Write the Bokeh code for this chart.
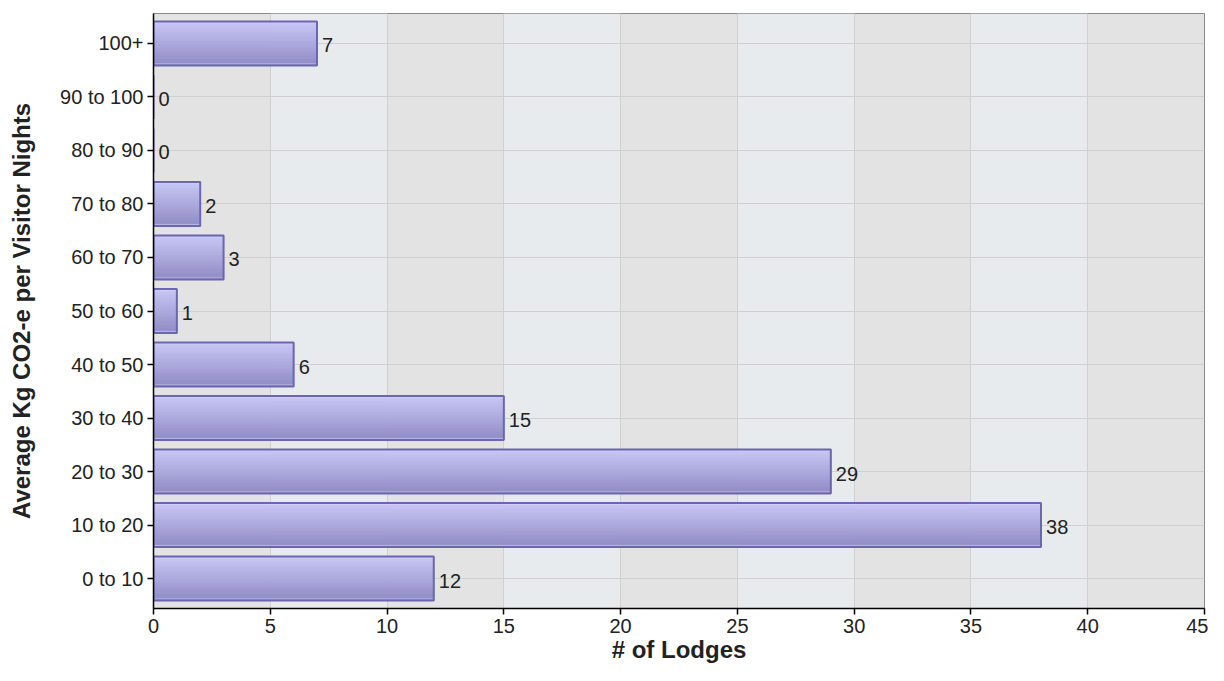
from bokeh.plotting import figure
from bokeh.models import FactorRange, Range1d, ColumnDataSource, SingleIntervalTicker
from bokeh.transform import dodge
from bokeh.core.properties import value
from bokeh.embed import file_html
from bokeh.resources import INLINE

categories = ["0 to 10", "10 to 20", "20 to 30", "30 to 40", "40 to 50", "50 to 60",
              "60 to 70", "70 to 80", "80 to 90", "90 to 100", "100+"]
lodges = [12, 38, 29, 15, 6, 1, 3, 2, 0, 0, 7]

src = ColumnDataSource(dict(cat=categories, n=lodges, lbl=[str(v) for v in lodges]))

p = figure(width=1208, height=665, output_backend="svg", toolbar_location=None,
           y_range=FactorRange(*categories, range_padding=0.011),
           x_range=Range1d(0, 45),
           min_border_left=153, min_border_right=4, min_border_top=13, min_border_bottom=57)

FONT = "Liberation Sans"
p.background_fill_color = "#e3e3e3"
p.border_fill_color = "white"
p.outline_line_color = "#8a8a8a"
p.outline_line_width = 1

p.xaxis.ticker = SingleIntervalTicker(interval=5)
p.xgrid.ticker = SingleIntervalTicker(interval=5)
p.xgrid.grid_line_color = "#d0d0d0"
p.xgrid.band_fill_color = "#e8ebee"
p.xgrid.band_fill_alpha = 1.0
p.ygrid.grid_line_color = "#d0d0d0"

# gradient bars built from stacked strips
n_strips = 16
bar_h = 0.82
top = (200, 198, 245)
bot = (145, 141, 198)
sh = bar_h / n_strips
for i in range(n_strips):
    t = i / (n_strips - 1)
    c = tuple(int(round(top[k] * (1 - t) + bot[k] * t)) for k in range(3))
    col = "#%02x%02x%02x" % c
    off = bar_h / 2 - (i + 0.5) * sh
    p.hbar(y=dodge("cat", off, range=p.y_range), right="n", left=0, height=sh,
           source=src, fill_color=col, line_color=col, line_width=0.8)
p.hbar(y="cat", right="n", left=0, height=bar_h * 0.93, source=src,
       fill_color=None, line_color="#d6d4f6", line_width=1, line_alpha=0.6)
p.hbar(y="cat", right="n", left=0, height=bar_h, source=src,
       fill_color=None, line_color="#6a66b2", line_width=2)

p.text(x="n", y="cat", text="lbl", source=src, x_offset=5, y_offset=2,
       text_baseline="middle", text_align="left", text_font=value(FONT),
       text_font_size="20px", text_color="#222222")

for ax in (p.xaxis[0], p.yaxis[0]):
    ax.axis_line_color = "black"
    ax.axis_line_width = 1.5
    ax.major_tick_line_color = "black"
    ax.major_tick_line_width = 1.5
    ax.major_tick_out = 6
    ax.major_tick_in = 0
    ax.minor_tick_line_color = None
    ax.major_label_text_font = FONT
    ax.major_label_text_font_size = "20px"
    ax.major_label_text_color = "#222222"
    ax.axis_label_text_font = FONT
    ax.axis_label_text_font_style = "bold"
    ax.axis_label_text_font_size = "24px"
    ax.axis_label_text_color = "#222222"

p.xaxis.axis_label = "# of Lodges"
p.yaxis.axis_label = "Average Kg CO2-e per Visitor Nights"
p.xaxis.axis_label_standoff = 0
p.xaxis.major_label_standoff = 4
p.yaxis.major_label_standoff = 4
p.yaxis.axis_label_standoff = 22

open("out.html", "w").write(file_html(p, INLINE))
